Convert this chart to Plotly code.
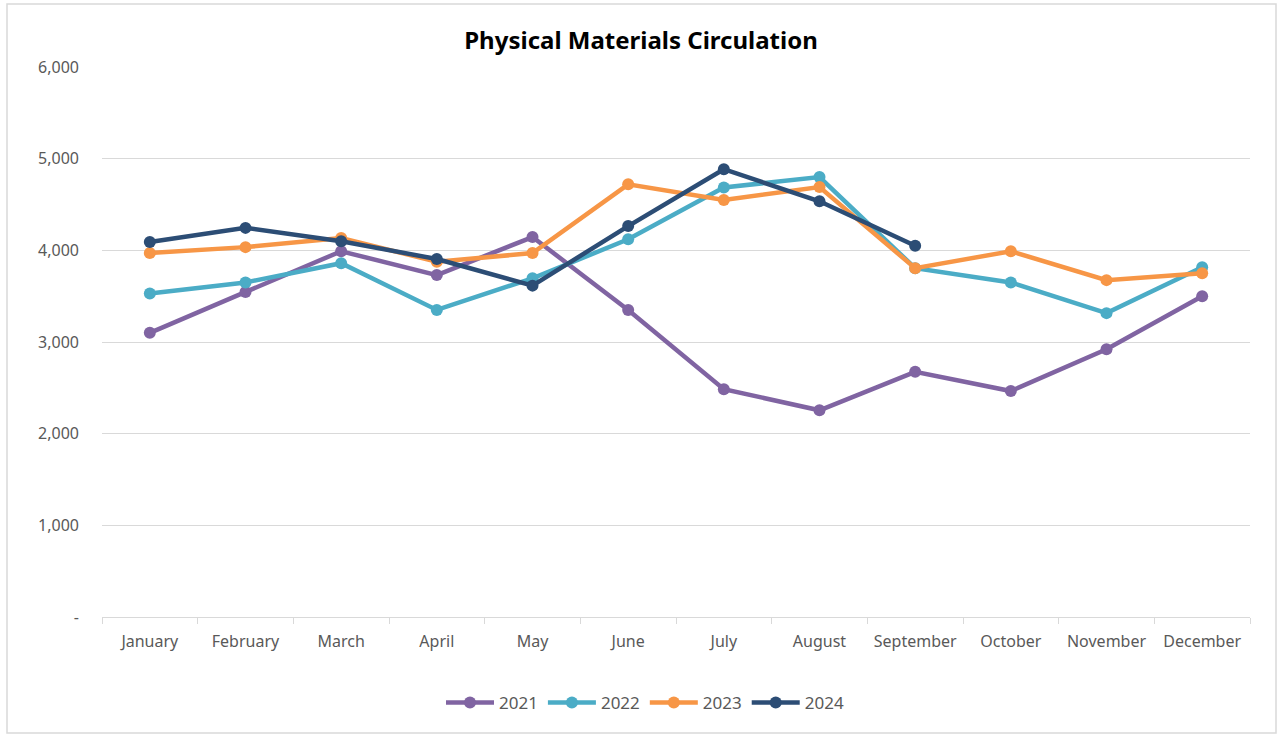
import plotly.graph_objects as go

months = ["January", "February", "March", "April", "May", "June", "July",
          "August", "September", "October", "November", "December"]

y2021 = [3100, 3545, 3990, 3730, 4145, 3350, 2485, 2255, 2675, 2465, 2920, 3500]
y2022 = [3530, 3650, 3860, 3350, 3695, 4120, 4685, 4800, 3805, 3650, 3315, 3815]
y2023 = [3970, 4035, 4135, 3875, 3970, 4720, 4550, 4690, 3805, 3990, 3675, 3750]
y2024 = [4090, 4245, 4100, 3905, 3615, 4265, 4885, 4535, 4050]

series = [("2021", y2021, "#8064A2"), ("2022", y2022, "#4BACC6"),
          ("2023", y2023, "#F79646"), ("2024", y2024, "#2C4D75")]

ytickvals = [0, 1000, 2000, 3000, 4000, 5000, 6000]
yticktext = ["-", "1,000", "2,000", "3,000", "4,000", "5,000", "6,000"]

fig = go.Figure()
for name, vals, col in series:
    fig.add_trace(go.Scatter(
        x=months[:len(vals)], y=vals, name=name, mode="lines+markers",
        line=dict(color=col, width=4.5), marker=dict(color=col, size=12),
    ))

font = "Noto Sans"
fig.update_layout(
    width=1280, height=735,
    margin=dict(l=102, r=30, t=67, b=118),
    paper_bgcolor="white", plot_bgcolor="white",
    title=dict(text="<b>Physical Materials Circulation</b>", x=(641 - 102) / 1148,
               xref="paper", xanchor="center",
               y=(735 - 41) / 735, yanchor="middle",
               font=dict(family=font, size=24, color="black")),
    font=dict(family=font, size=16, color="#595959"),
    xaxis=dict(type="category", categoryorder="array", categoryarray=months,
               range=[-0.5, 11.5], tickson="boundaries", ticks="outside", ticklen=6,
               tickcolor="#d9d9d9", showline=True, linecolor="#d9d9d9", linewidth=1,
               showgrid=False, ticklabelstandoff=10,
               tickfont=dict(size=16, color="#595959")),
    yaxis=dict(range=[0, 6000], tickvals=ytickvals, ticktext=yticktext,
               showgrid=True, gridcolor="#d9d9d9", gridwidth=1, zeroline=False,
               showline=False, ticks="", ticklabelstandoff=22,
               tickfont=dict(size=16, color="#595959")),
    legend=dict(orientation="h", x=(645 - 102) / 1148, xanchor="center",
                y=(617 - 703) / 550, yanchor="middle",
                font=dict(size=17, color="#595959"), itemwidth=48, traceorder="normal"),
    showlegend=True,
)
fig.add_shape(type="rect", xref="paper", yref="paper",
              x0=(7 - 102) / 1148, x1=(1276 - 102) / 1148,
              y0=(617 - 733) / 550, y1=(617 - 4) / 550,
              line=dict(color="#d9d9d9", width=1.5), fillcolor="rgba(0,0,0,0)", layer="below")

fig.write_html("out.html", config={"displayModeBar": False})
with open("out.html", encoding="utf-8") as f:
    html = f.read()
html = html.replace("<head>", "<head><style>html,body{margin:0;padding:0;overflow:hidden;}</style>", 1)
with open("out.html", "w", encoding="utf-8") as f:
    f.write(html)
